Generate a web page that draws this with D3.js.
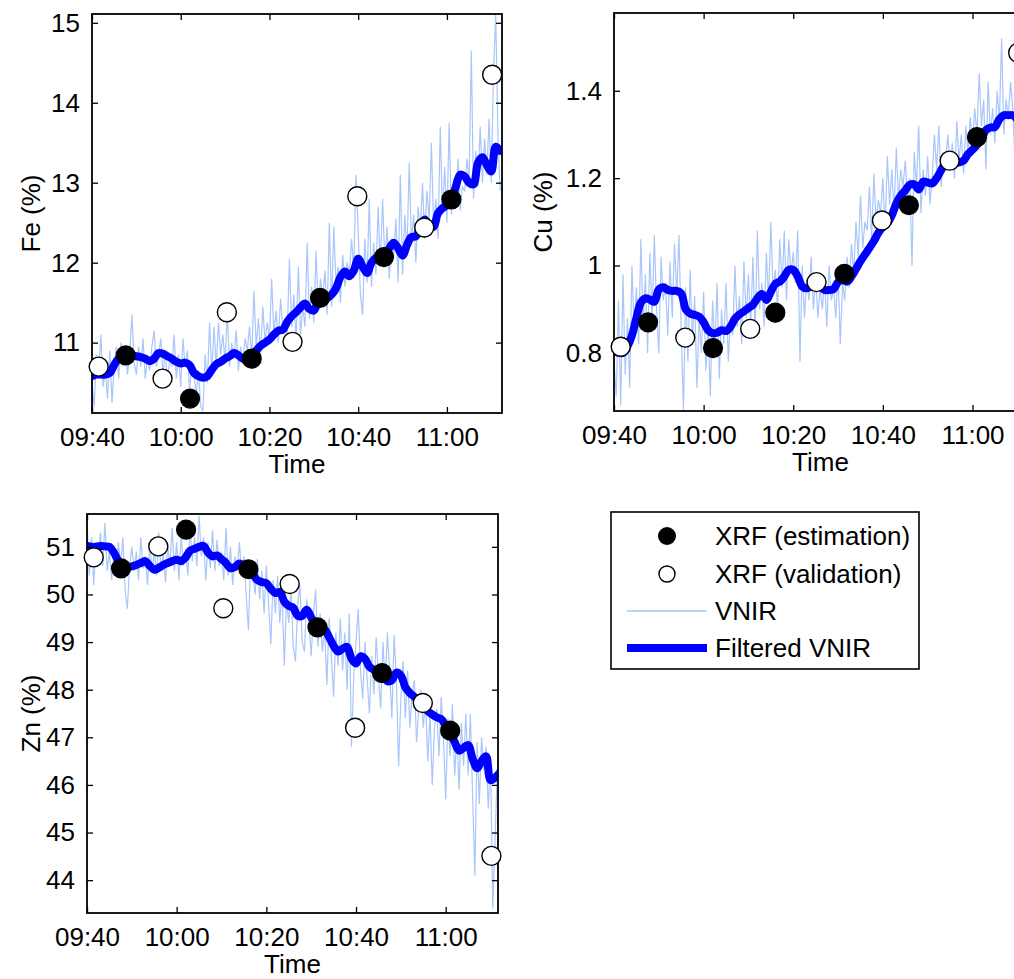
<!DOCTYPE html>
<html>
<head>
<meta charset="utf-8">
<script src="https://cdn.jsdelivr.net/npm/d3@7"></script>
<style>
  body { margin: 0; background: #fff; }
  svg text { font-family: "Liberation Sans", Arial, Helvetica, sans-serif; fill: #000; }
</style>
</head>
<body>
<svg id="chart" width="1014" height="979"></svg>
<script>
"use strict";

// XRF sampling times
var estTimes = ["09:47:36", "10:02:06", "10:16:00", "10:31:24", "10:45:48", "11:01:00"];
var valTimes = ["09:41:30", "09:55:54", "10:10:24", "10:25:12", "10:39:48", "10:54:54", "11:10:12"];

// VNIR raw every 30 s from 09:40, filtered every 60 s from 09:40
var rawStart = "09:40:00", rawStepSec = 30, filtStepSec = 60;

var tickTimes = ["09:40", "10:00", "10:20", "10:40", "11:00"];

// ---- Fe ----
var feEst = [10.84, 10.30, 10.80, 11.56, 12.07, 12.79];
var feVal = [10.70, 10.55, 11.38, 11.01, 12.83, 12.44, 14.35];
var feRaw = [
  10.50, 10.20, 10.85, 10.60, 11.10, 10.45, 10.65, 10.30, 10.90, 10.25,
  10.70, 10.95, 10.55, 11.00, 10.70, 10.95, 10.60, 10.85, 11.35, 10.75,
  10.60, 10.95, 10.70, 11.05, 10.55, 10.80, 10.65, 10.95, 11.15, 10.70,
  10.85, 11.05, 10.60, 10.90, 10.50, 10.80, 10.70, 11.10, 10.55, 10.85,
  10.45, 11.05, 10.70, 10.90, 10.40, 10.75, 10.60, 10.35, 10.65, 10.20,
  10.15, 10.85, 10.50, 11.25, 10.60, 11.20, 10.70, 11.25, 10.85, 11.10,
  10.75, 11.40, 10.70, 11.00, 10.80, 11.15, 10.65, 10.95, 10.75, 11.05,
  10.90, 11.20, 10.80, 11.65, 10.95, 11.30, 10.85, 11.45, 11.00, 11.25,
  11.05, 11.80, 11.10, 11.40, 11.00, 11.55, 11.20, 11.30, 11.10, 12.05,
  11.20, 11.60, 11.00, 11.95, 11.10, 11.45, 11.20, 12.25, 11.30, 11.70,
  11.25, 12.15, 11.40, 11.80, 11.55, 11.90, 11.35, 12.50, 11.45, 12.45,
  11.75, 11.95, 11.50, 12.10, 11.70, 12.00, 11.85, 12.30, 11.90, 13.10,
  12.40, 11.60, 11.35, 12.30, 11.75, 12.80, 11.70, 12.25, 11.85, 12.70,
  11.95, 12.80, 12.00, 12.45, 11.80, 12.30, 12.05, 12.55, 11.75, 13.10,
  11.85, 12.60, 12.15, 13.25, 12.25, 12.60, 12.00, 12.70, 12.40, 13.00,
  12.30, 12.90, 12.55, 13.50, 12.45, 12.80, 12.30, 13.70, 12.60, 13.20,
  12.50, 13.75, 12.60, 13.05, 12.70, 13.30, 12.65, 12.95, 12.90, 13.30,
  13.05, 14.65, 12.80, 13.40, 12.95, 13.70, 13.00, 13.55, 13.10, 13.80,
  13.00, 14.40, 15.10, 13.60, 12.90
];
var feFilt = [
  10.58, 10.60, 10.60, 10.60, 10.62, 10.72, 10.80, 10.82, 10.83, 10.84,
  10.83, 10.82, 10.80, 10.77, 10.80, 10.87, 10.86, 10.83, 10.80, 10.76,
  10.74, 10.75, 10.72, 10.62, 10.58, 10.56, 10.58, 10.66, 10.73, 10.76,
  10.80, 10.83, 10.87, 10.84, 10.80, 10.80, 10.83, 10.90, 10.96, 11.00,
  11.04, 11.10, 11.15, 11.16, 11.26, 11.33, 11.38, 11.44, 11.49, 11.42,
  11.40, 11.52, 11.60, 11.56, 11.60, 11.68, 11.82, 11.89, 11.83, 11.90,
  12.05, 11.95, 11.87, 12.00, 12.06, 12.08, 12.08, 12.18, 12.25, 12.18,
  12.09, 12.22, 12.32, 12.33, 12.45, 12.54, 12.46, 12.45, 12.62, 12.68,
  12.72, 12.78, 12.95, 13.10, 13.08, 13.00, 12.98, 13.25, 13.32, 13.22,
  13.14, 13.45, 13.40
];
var feTicks = [11, 12, 13, 14, 15];

// ---- Cu ----
var cuEst = [0.870, 0.811, 0.892, 0.981, 1.138, 1.294];
var cuVal = [0.814, 0.835, 0.855, 0.962, 1.103, 1.240, 1.487];
var cuRaw = [
  0.78, 0.70, 0.92, 0.68, 0.98, 0.75, 0.88, 0.72, 1.00, 0.85,
  0.95, 0.82, 1.06, 0.86, 0.98, 0.80, 1.03, 0.88, 1.07, 0.90,
  0.80, 1.02, 0.92, 0.96, 0.84, 1.01, 0.88, 1.05, 0.93, 1.07,
  0.85, 0.67, 0.95, 0.78, 0.99, 0.82, 0.93, 0.72, 0.88, 0.80,
  0.94, 0.76, 0.86, 0.70, 0.92, 0.80, 0.96, 0.74, 0.90, 0.82,
  0.96, 0.78, 0.88, 0.84, 1.00, 0.86, 0.93, 0.82, 1.01, 0.88,
  0.98, 0.86, 1.02, 0.84, 1.08, 0.90, 0.96, 0.86, 1.03, 0.92,
  1.10, 0.94, 0.99, 0.90, 1.06, 0.95, 1.08, 0.92, 1.06, 0.98,
  1.03, 0.96, 1.08, 0.78, 1.00, 0.88, 0.97, 0.92, 1.02, 0.90,
  0.98, 0.88, 0.95, 0.90, 0.97, 0.86, 1.00, 0.92, 0.95, 0.88,
  0.99, 0.82, 0.96, 0.92, 1.02, 0.95, 1.05, 0.98, 1.10, 1.02,
  1.16, 1.04, 1.10, 1.08, 1.18, 1.06, 1.21, 1.10, 1.15, 1.12,
  1.20, 1.08, 1.25, 1.14, 1.22, 1.12, 1.27, 1.15, 1.22, 1.18,
  1.24, 1.16, 1.20, 1.00, 1.26, 1.18, 1.32, 1.12, 1.22, 1.16,
  1.25, 1.14, 1.20, 1.30, 1.22, 1.32, 1.18, 1.26, 1.24, 1.30,
  1.22, 1.28, 1.20, 1.33, 1.24, 1.30, 1.21, 1.32, 1.26, 1.34,
  1.28, 1.36, 1.30, 1.44, 1.32, 1.38, 1.22, 1.42, 1.30, 1.36,
  1.28, 1.40, 1.33, 1.52, 1.30, 1.38, 1.34, 1.42, 1.36, 1.24,
  1.34, 1.42, 1.30, 1.38, 1.32
];
var cuFilt = [
  0.805, 0.800, 0.800, 0.815, 0.840, 0.880, 0.915, 0.925, 0.922, 0.917,
  0.945, 0.950, 0.944, 0.942, 0.942, 0.936, 0.900, 0.890, 0.887, 0.883,
  0.870, 0.852, 0.845, 0.846, 0.852, 0.850, 0.860, 0.878, 0.888, 0.895,
  0.903, 0.910, 0.925, 0.935, 0.921, 0.940, 0.958, 0.963, 0.975, 0.990,
  0.990, 0.975, 0.952, 0.948, 0.952, 0.958, 0.952, 0.944, 0.944, 0.946,
  0.962, 0.967, 0.963, 0.975, 0.992, 1.010, 1.025, 1.040, 1.056, 1.075,
  1.088, 1.097, 1.115, 1.142, 1.160, 1.172, 1.185, 1.186, 1.174, 1.192,
  1.190, 1.188, 1.200, 1.218, 1.234, 1.236, 1.234, 1.236, 1.240, 1.255,
  1.265, 1.276, 1.290, 1.310, 1.316, 1.317, 1.335, 1.344, 1.344, 1.344,
  1.335, 1.330, 1.330
];
var cuTicks = [0.8, 1, 1.2, 1.4];

// ---- Zn ----
var znEst = [50.55, 51.36, 50.53, 49.31, 48.35, 47.14];
var znVal = [50.78, 51.01, 49.71, 50.22, 47.20, 47.72, 44.51];
var znRaw = [
  51.60, 50.40, 51.20, 50.20, 51.10, 50.80, 51.30, 50.60, 51.50, 50.50,
  50.90, 50.30, 50.85, 50.40, 51.10, 50.60, 51.20, 50.10, 49.70, 50.60,
  51.00, 50.50, 50.90, 50.30, 51.20, 50.55, 50.80, 50.20, 51.10, 50.45,
  50.90, 50.40, 51.30, 50.50, 50.85, 50.25, 51.05, 50.60, 51.40, 50.50,
  51.10, 50.30, 51.25, 50.60, 50.90, 50.40, 51.45, 50.70, 51.20, 50.60,
  51.65, 50.80, 51.20, 50.30, 51.10, 50.55, 51.35, 50.50, 51.15, 50.60,
  50.90, 50.30, 51.40, 50.40, 51.00, 50.20, 50.80, 50.50, 51.10, 50.40,
  50.80, 50.00, 49.25, 50.70, 50.40, 50.00, 50.75, 49.90, 50.50, 49.60,
  50.60, 49.80, 48.95, 50.30, 49.60, 50.40, 49.40, 50.10, 48.50, 49.90,
  49.40, 50.10, 48.90, 48.60, 49.80, 50.20, 49.00, 48.80, 49.90, 49.40,
  48.70, 49.60, 50.10, 48.90, 49.60, 48.80, 49.30, 48.10, 49.50, 48.70,
  47.85, 49.20, 48.50, 49.50, 48.40, 49.20, 48.00, 49.60, 46.80, 48.30,
  49.00, 49.70, 48.40, 47.80, 49.00, 48.20, 47.50, 48.70, 47.90, 49.10,
  48.30, 47.60, 49.00, 48.10, 49.20, 48.40, 47.40, 49.15, 48.20, 46.40,
  47.80, 48.60, 47.40, 48.40, 47.20, 47.90, 48.20, 46.90, 47.60, 48.00,
  47.20, 47.80, 46.50, 47.50, 46.00, 47.20, 47.60, 46.60, 47.85, 47.00,
  45.70, 47.40, 46.60, 47.70, 46.20, 47.10, 45.90, 47.30, 46.40, 47.50,
  46.20, 47.50, 45.80, 44.10, 46.90, 45.60, 47.00, 46.30, 46.80, 45.50,
  46.60, 43.40, 44.80, 46.30, 47.00
];
var znFilt = [
  51.02, 51.00, 51.00, 51.02, 51.01, 51.00, 50.88, 50.70, 50.60, 50.58,
  50.59, 50.62, 50.66, 50.70, 50.60, 50.52, 50.56, 50.62, 50.66, 50.70,
  50.73, 50.70, 50.78, 50.92, 50.96, 51.00, 51.02, 50.88, 50.80, 50.82,
  50.74, 50.66, 50.55, 50.58, 50.65, 50.60, 50.55, 50.42, 50.30, 50.26,
  50.24, 50.12, 50.03, 50.05, 49.85, 49.76, 49.72, 49.55, 49.55, 49.68,
  49.52, 49.35, 49.30, 49.27, 49.10, 48.92, 48.80, 48.86, 48.90, 48.65,
  48.55, 48.70, 48.65, 48.48, 48.42, 48.38, 48.30, 48.18, 48.20, 48.36,
  48.30, 48.05, 47.93, 47.85, 47.75, 47.65, 47.55, 47.48, 47.42, 47.38,
  47.25, 47.10, 46.90, 46.72, 46.78, 46.84, 46.55, 46.35, 46.50, 46.60,
  46.10, 46.15, 46.25
];
var znTicks = [44, 45, 46, 47, 48, 49, 50, 51];

// legend labels
var legendLabels = ["XRF (estimation)", "XRF (validation)", "VNIR", "Filtered VNIR"];

var parseT = d3.timeParse("%H:%M:%S");
var parseHM = d3.timeParse("%H:%M");
var t0 = parseT(rawStart);

function series(vals, step) {
  return vals.map(function(v, i) { return { t: new Date(t0.getTime() + i * step * 1000), v: v }; });
}
function points(times, vals) {
  return times.map(function(s, i) { return { t: parseT(s), v: vals[i] }; });
}

var RAW_COLOR = "#a9c6fb", FILT_COLOR = "#0000ff";
var FS = 26;

var svg = d3.select("#chart");

var panels = [
  { label: "Fe (%)", raw: feRaw, filt: feFilt, est: feEst, val: feVal, ticks: feTicks,
    box: [92, 14, 502, 413], yDom: [10.12, 15.11], tEnd: "11:12:25", labX: 40, id: "fe" },
  { label: "Cu (%)", raw: cuRaw, filt: cuFilt, est: cuEst, val: cuVal, ticks: cuTicks,
    box: [614, 13, 1027, 411], yDom: [0.667, 1.578], tEnd: "11:12:10", labX: 552, id: "cu" },
  { label: "Zn (%)", raw: znRaw, filt: znFilt, est: znEst, val: znVal, ticks: znTicks,
    box: [87, 514, 498, 913], yDom: [43.31, 51.69], tEnd: "11:11:40", labX: 40, id: "zn" }
];

panels.forEach(function(p) {
  var L = p.box[0], T = p.box[1], R = p.box[2], B = p.box[3];
  var x = d3.scaleTime().domain([t0, parseT(p.tEnd)]).range([L, R]);
  var y = d3.scaleLinear().domain(p.yDom).range([B, T]);
  var g = svg.append("g");

  g.append("clipPath").attr("id", "clip-" + p.id)
    .append("rect").attr("x", L).attr("y", T).attr("width", R - L).attr("height", B - T);

  var line = d3.line().x(function(d) { return x(d.t); }).y(function(d) { return y(d.v); });

  var plot = g.append("g").attr("clip-path", "url(#clip-" + p.id + ")");
  plot.append("path").datum(series(p.raw, rawStepSec))
    .attr("d", line).attr("fill", "none").attr("stroke", RAW_COLOR).attr("stroke-width", 1.2);
  plot.append("path").datum(series(p.filt, filtStepSec))
    .attr("d", line.curve(d3.curveCatmullRom)).attr("fill", "none")
    .attr("stroke", FILT_COLOR).attr("stroke-width", 8)
    .attr("stroke-linejoin", "round").attr("stroke-linecap", "round");

  // ticks (inward, all four sides)
  var xt = tickTimes.map(function(s) { return parseHM(s); }).map(function(d) {
    return new Date(t0.getFullYear(), t0.getMonth(), t0.getDate(), d.getHours(), d.getMinutes());
  });
  var xAxis = d3.axisBottom(x).tickValues(xt).tickFormat(d3.timeFormat("%H:%M")).tickSizeInner(-6).tickSizeOuter(0).tickPadding(14);
  var gx = g.append("g").attr("transform", "translate(0," + B + ")").call(xAxis);
  var gxt = g.append("g").attr("transform", "translate(0," + T + ")").call(d3.axisTop(x).tickValues(xt).tickSizeInner(-6).tickSizeOuter(0).tickFormat(""));
  var yAxis = d3.axisLeft(y).tickValues(p.ticks).tickFormat(function(d) { return String(d); }).tickSizeInner(-6).tickSizeOuter(0).tickPadding(12);
  var gy = g.append("g").attr("transform", "translate(" + L + ",0)").call(yAxis);
  var gyr = g.append("g").attr("transform", "translate(" + R + ",0)").call(d3.axisRight(y).tickValues(p.ticks).tickSizeInner(-6).tickSizeOuter(0).tickFormat(""));
  [gx, gxt, gy, gyr].forEach(function(a) {
    a.select(".domain").remove();
    a.selectAll(".tick line").attr("stroke", "#000").attr("stroke-width", 1.3);
    a.selectAll("text").attr("font-size", FS).attr("font-family", null).attr("fill", "#000");
  });
  gx.selectAll("text").attr("dy", null).attr("dominant-baseline", "hanging");

  g.append("rect").attr("x", L).attr("y", T).attr("width", R - L).attr("height", B - T)
    .attr("fill", "none").attr("stroke", "#000").attr("stroke-width", 1.8);

  // markers
  g.selectAll("circle.est").data(points(estTimes, p.est)).enter().append("circle")
    .attr("class", "est").attr("cx", function(d) { return x(d.t); }).attr("cy", function(d) { return y(d.v); })
    .attr("r", 9.5).attr("fill", "#000").attr("stroke", "#000").attr("stroke-width", 1.2);
  g.selectAll("circle.val").data(points(valTimes, p.val)).enter().append("circle")
    .attr("class", "val").attr("cx", function(d) { return x(d.t); }).attr("cy", function(d) { return y(d.v); })
    .attr("r", 9.5).attr("fill", "#fff").attr("stroke", "#000").attr("stroke-width", 1.4);

  // axis labels
  g.append("text").attr("x", (L + R) / 2).attr("y", B + 60).attr("text-anchor", "middle")
    .attr("font-size", FS).text("Time");
  g.append("text").attr("transform", "translate(" + p.labX + "," + ((T + B) / 2) + ") rotate(-90)")
    .attr("text-anchor", "middle").attr("font-size", FS).text(p.label);
});

// legend
var lg = svg.append("g");
lg.append("rect").attr("x", 611).attr("y", 512).attr("width", 308).attr("height", 157)
  .attr("fill", "#fff").attr("stroke", "#000").attr("stroke-width", 1.6);
var rowY = [536, 574, 611, 648];
lg.append("circle").attr("cx", 667).attr("cy", rowY[0]).attr("r", 9).attr("fill", "#000");
lg.append("circle").attr("cx", 667).attr("cy", rowY[1]).attr("r", 8).attr("fill", "#fff").attr("stroke", "#000").attr("stroke-width", 1.4);
lg.append("line").attr("x1", 627).attr("x2", 707).attr("y1", rowY[2]).attr("y2", rowY[2])
  .attr("stroke", RAW_COLOR).attr("stroke-width", 1.3);
lg.append("line").attr("x1", 627).attr("x2", 707).attr("y1", rowY[3]).attr("y2", rowY[3])
  .attr("stroke", FILT_COLOR).attr("stroke-width", 8);
lg.selectAll("text.lab").data(legendLabels).enter().append("text")
  .attr("class", "lab").attr("x", 715).attr("y", function(d, i) { return rowY[i] + 9; })
  .attr("font-size", 26).text(function(d) { return d; });
</script>
</body>
</html>
